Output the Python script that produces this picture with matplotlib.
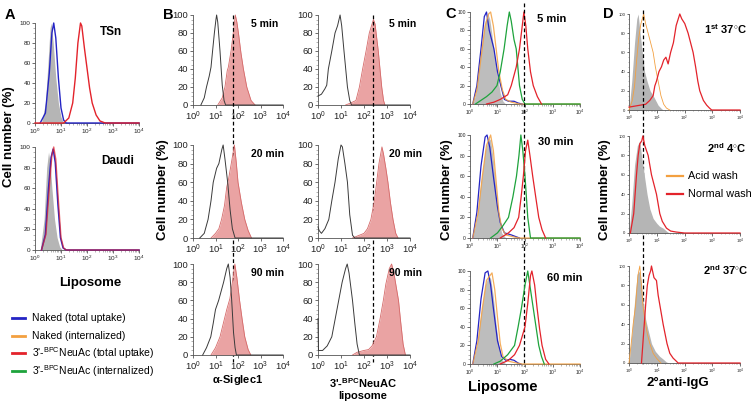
import matplotlib
matplotlib.use('Agg')
import matplotlib.pyplot as plt
from matplotlib.ticker import FixedLocator, LogLocator, MultipleLocator, NullFormatter
import matplotlib.transforms as mtransforms
import numpy as np

plt.rcParams['font.family'] = ['Liberation Sans', 'DejaVu Sans']
plt.rcParams['mathtext.fontset'] = 'custom'
plt.rcParams['mathtext.rm'] = 'Liberation Sans'
plt.rcParams['mathtext.it'] = 'Liberation Sans:italic'
plt.rcParams['mathtext.bf'] = 'Liberation Sans:bold'

# ---------------- data (x = log10 fluorescence, y = cell number %) ----------------
log_ticks = [0, 1, 2, 3, 4]
log_tick_labels = [r'$10^{0}$', r'$10^{1}$', r'$10^{2}$', r'$10^{3}$', r'$10^{4}$']
pct_ticks = [0, 20, 40, 60, 80, 100]

# Panel A
a_tsn_gray = [(0.25,0),(0.4,20),(0.5,60),(0.58,95),(0.62,100),(0.7,80),(0.8,45),(0.9,20),(1.0,6),(1.1,0)]
a_tsn_blue = [(0.2,0),(0.4,10),(0.55,50),(0.65,90),(0.72,100),(0.8,85),(0.9,45),(1.0,15),(1.1,3),(1.2,0),(4,0)]
a_tsn_red = [(0,0),(1.1,0),(1.3,5),(1.45,20),(1.55,45),(1.65,80),(1.75,100),(1.8,97),(1.9,75),(2.0,55),
             (2.1,35),(2.2,20),(2.35,8),(2.5,2),(2.7,0),(4,0)]
a_daudi_gray = [(0.2,0),(0.35,30),(0.45,80),(0.52,95),(0.58,85),(0.65,60),(0.75,30),(0.85,12),(0.95,3),(1.05,0)]
a_daudi_blue = [(0.25,0),(0.4,15),(0.52,60),(0.62,90),(0.7,98),(0.78,85),(0.88,45),(0.98,12),(1.08,2),(1.2,0),(4,0)]
a_daudi_red = [(0.25,0),(0.42,15),(0.55,60),(0.65,92),(0.72,100),(0.8,88),(0.9,48),(1.0,12),(1.1,2),(1.2,0),(4,0)]

# Panel B (black = control line, red = filled)
b_siglec_5_black = [(0.35,0),(0.5,8),(0.6,20),(0.72,32),(0.8,42),(0.87,60),(0.95,80),(1.02,95),(1.05,100),
                    (1.1,92),(1.2,60),(1.3,22),(1.38,5),(1.45,0),(4,0)]
b_siglec_5_red = [(1.1,0),(1.3,8),(1.42,20),(1.52,38),(1.57,42),(1.69,60),(1.79,80),(1.88,100),(1.95,92),
                  (2.03,78),(2.13,58),(2.24,40),(2.39,20),(2.58,5),(2.76,0)]
b_lipo_5_black = [(0,10),(0.15,12),(0.3,18),(0.38,22),(0.45,40),(0.6,60),(0.74,80),(0.85,88),(0.96,100),
                  (1.03,88),(1.13,60),(1.28,20),(1.38,5),(1.46,0),(4,0)]
b_lipo_5_red = [(1.2,0),(1.4,2),(1.65,5),(1.8,20),(1.94,40),(2.09,60),(2.23,80),(2.35,90),(2.41,95),
                (2.48,90),(2.55,75),(2.62,60),(2.77,20),(2.85,5),(2.91,0)]
b_siglec_20_black = [(0.3,0),(0.5,5),(0.67,20),(0.8,40),(0.9,60),(1.05,75),(1.15,80),(1.28,95),(1.34,100),
                     (1.42,85),(1.54,60),(1.65,30),(1.75,10),(1.87,0),(4,0)]
b_siglec_20_red = [(0.8,0),(1.0,5),(1.15,10),(1.27,20),(1.4,35),(1.5,55),(1.57,62),(1.7,80),(1.84,100),
                   (1.92,82),(2.0,60),(2.15,38),(2.3,20),(2.45,8),(2.6,0)]
b_lipo_20_black = [(0,12),(0.05,8),(0.15,5),(0.3,10),(0.47,20),(0.6,40),(0.74,60),(0.88,85),(1.0,100),
                   (1.06,98),(1.17,80),(1.28,60),(1.38,25),(1.5,3),(1.6,0),(4,0)]
b_lipo_20_red = [(1.5,0),(1.7,2),(2.0,5),(2.15,10),(2.3,20),(2.45,40),(2.55,60),(2.65,80),(2.78,98),
                 (2.85,90),(2.95,75),(3.04,60),(3.15,38),(3.26,20),(3.38,5),(3.48,0)]
b_siglec_90_black = [(0.43,0),(0.6,8),(0.79,20),(0.9,35),(1.0,50),(1.14,60),(1.25,70),(1.36,80),(1.5,95),
                     (1.57,100),(1.65,85),(1.72,60),(1.8,25),(1.87,8),(1.93,0),(4,0)]
b_siglec_90_red = [(0.8,0),(1.0,8),(1.2,20),(1.35,35),(1.5,50),(1.64,62),(1.75,80),(1.86,100),(1.95,85),
                   (2.07,60),(2.18,40),(2.3,20),(2.45,6),(2.57,0)]
b_lipo_90_black = [(0,40),(0.02,5),(0.2,5),(0.4,10),(0.6,20),(0.75,40),(0.9,60),(1.05,80),(1.2,95),
                   (1.27,100),(1.35,90),(1.5,60),(1.6,35),(1.7,12),(1.8,0),(4,0)]
b_lipo_90_red = [(1.5,0),(1.7,3),(2.0,5),(2.2,6),(2.35,10),(2.54,20),(2.7,40),(2.84,60),(2.95,78),(3.1,95),
                 (3.2,100),(3.3,90),(3.4,75),(3.5,60),(3.6,35),(3.7,12),(3.8,0)]
b_siglec_cutoff = 1.78
b_lipo_cutoff = 2.39

# Panel C
c5_gray = [(0.1,0),(0.2,10),(0.35,45),(0.45,70),(0.55,90),(0.65,98),(0.72,92),(0.8,75),(0.9,50),(1.0,30),
           (1.1,12),(1.2,3),(1.3,0)]
c5_blue = [(0.1,0),(0.25,20),(0.4,60),(0.52,95),(0.6,100),(0.7,80),(0.87,60),(1.0,35),(1.12,20),(1.25,5),
           (1.4,3),(1.6,3),(1.75,1),(1.9,0)]
c5_orange = [(0.1,0),(0.25,15),(0.4,50),(0.55,85),(0.68,98),(0.75,100),(0.85,85),(0.95,60),(1.05,35),
             (1.18,15),(1.3,5),(1.5,2),(1.8,0),(4,0)]
c5_green = [(0.2,0),(0.35,3),(0.6,8),(0.8,13),(0.98,20),(1.1,35),(1.24,60),(1.35,85),(1.43,100),(1.5,90),
            (1.6,70),(1.68,60),(1.8,20),(1.9,5),(2.0,0),(4,0)]
c5_red = [(0.6,0),(0.87,2),(1.1,5),(1.37,10),(1.5,20),(1.68,40),(1.8,60),(1.9,85),(1.96,100),(2.03,85),
          (2.1,60),(2.2,35),(2.3,20),(2.45,8),(2.6,0)]
c30_gray = [(0.1,0),(0.25,20),(0.4,55),(0.55,85),(0.68,97),(0.75,95),(0.85,75),(0.95,45),(1.05,20),(1.15,5),(1.3,0)]
c30_blue = [(0.1,0),(0.25,25),(0.4,70),(0.55,98),(0.62,100),(0.72,88),(0.85,60),(1.0,30),(1.1,15),(1.25,5),
            (1.5,3),(1.7,1),(1.8,0)]
c30_orange = [(0.1,0),(0.3,25),(0.45,60),(0.6,90),(0.75,100),(0.85,85),(0.95,55),(1.05,25),(1.15,10),(1.3,3),
              (1.6,1),(1.8,0),(4,0)]
c30_green = [(0.75,0),(1.0,5),(1.2,12),(1.4,20),(1.56,40),(1.69,60),(1.78,80),(1.85,100),(1.92,85),(2.0,60),
             (2.1,20),(2.2,0),(4,0)]
c30_red = [(1.1,0),(1.4,5),(1.6,10),(1.77,20),(1.86,40),(1.94,60),(2.02,85),(2.1,95),(2.18,80),(2.28,60),
           (2.4,38),(2.5,20),(2.62,8),(2.75,0)]
c60_gray = [(0.1,0),(0.25,20),(0.4,55),(0.55,85),(0.68,95),(0.75,92),(0.85,72),(0.95,42),(1.05,18),(1.15,5),(1.3,0)]
c60_blue = [(0.1,0),(0.25,25),(0.4,70),(0.55,98),(0.65,100),(0.75,85),(0.85,60),(1.0,25),(1.15,8),(1.3,4),
            (1.45,5),(1.6,4),(1.75,1),(1.85,0)]
c60_orange = [(0.1,0),(0.3,25),(0.45,60),(0.6,90),(0.8,98),(0.9,80),(1.0,50),(1.1,22),(1.2,8),(1.4,3),
              (1.7,1),(1.9,0),(4,0)]
c60_green = [(0.87,0),(1.1,3),(1.37,10),(1.62,20),(1.75,40),(1.87,60),(2.0,85),(2.1,100),(2.2,80),(2.3,60),
             (2.4,40),(2.5,20),(2.6,8),(2.7,0)]
c60_red = [(1.1,0),(1.4,4),(1.62,10),(1.8,20),(1.9,30),(2.0,40),(2.1,65),(2.2,95),(2.25,100),(2.35,85),
           (2.44,60),(2.53,38),(2.62,20),(2.75,5),(2.87,0)]
c_cutoff = 1.97

# Panel D
d1_gray = [(0,0),(0.1,30),(0.2,70),(0.28,95),(0.33,100),(0.4,80),(0.48,60),(0.56,40),(0.65,30),(0.76,20),
           (0.87,15),(0.96,10),(1.05,5),(1.15,2),(1.23,0)]
d1_orange = [(0,0),(0.12,10),(0.2,25),(0.27,50),(0.35,75),(0.43,90),(0.53,100),(0.6,90),(0.69,80),(0.78,70),
             (0.87,60),(0.95,45),(1.05,30),(1.15,15),(1.25,6),(1.35,2),(1.47,0)]
d1_red = [(0,3),(0.2,4),(0.4,5),(0.6,6),(0.75,10),(0.87,15),(0.93,25),(0.99,30),(1.08,40),(1.17,45),(1.25,52),
          (1.33,55),(1.41,48),(1.5,60),(1.6,70),(1.7,88),(1.83,100),(1.9,95),(2.01,90),(2.13,80),(2.22,70),
          (2.31,60),(2.4,45),(2.48,30),(2.55,20),(2.68,10),(2.8,5),(2.9,2),(2.98,0),(4,0)]
d2_gray = [(0,0),(0.1,30),(0.2,70),(0.3,90),(0.39,95),(0.45,80),(0.55,60),(0.65,40),(0.75,25),(0.87,15),
           (1.0,10),(1.1,7),(1.23,5),(1.35,2),(1.45,0)]
d2_red = [(0.05,0),(0.17,20),(0.27,60),(0.33,80),(0.39,92),(0.46,95),(0.5,100),(0.57,90),(0.63,85),(0.69,80),
          (0.75,70),(0.81,60),(0.9,50),(0.99,40),(1.05,30),(1.11,20),(1.2,12),(1.35,5),(1.5,2),(1.7,1),(2.0,0),(4,0)]
d3_gray = [(0,0),(0.1,30),(0.22,70),(0.3,92),(0.39,95),(0.45,80),(0.52,60),(0.6,45),(0.68,35),(0.81,20),
           (0.95,12),(1.1,7),(1.23,4),(1.35,1),(1.45,0)]
d3_orange = [(0,0),(0.08,20),(0.15,40),(0.24,60),(0.32,90),(0.39,100),(0.45,80),(0.5,60),(0.57,45),(0.66,30),
             (0.75,20),(0.87,10),(0.99,5),(1.15,0)]
d3_red = [(0.45,0),(0.5,20),(0.55,40),(0.6,60),(0.66,80),(0.72,90),(0.78,95),(0.81,100),(0.9,88),(0.99,85),
          (1.05,70),(1.11,60),(1.17,50),(1.23,40),(1.3,30),(1.37,20),(1.47,10),(1.59,5),(1.7,2),(1.77,0),(4,0)]
d_cutoff = 0.5

legend_a_labels = ['Naked (total uptake)', 'Naked (internalized)',
                   r"3'-$^{\mathrm{BPC}}$NeuAc (total uptake)", r"3'-$^{\mathrm{BPC}}$NeuAc (internalized)"]
legend_d_labels = ['Acid wash', 'Normal wash']

# ---------------- styling ----------------
BLUE = '#2424c4'
ORANGE = '#f3a040'
RED = '#e3232b'
GREEN = '#1ea33c'
GRAY = '#b5b5b5'
BFILL = '#eaa3a3'
BEDGE = '#d56a6a'

W, H = 755, 404
fig = plt.figure(figsize=(W / 100, H / 100), dpi=100)


def rect(x0, y0, x1, y1):
    return [x0 / W, 1 - y1 / H, (x1 - x0) / W, (y1 - y0) / H]


def fx(x):
    return x / W


def fy(y):
    return 1 - y / H


def make_ax(r, tick_fs, ticklen):
    ax = fig.add_axes(rect(*r))
    ax.set_xscale('log')
    ax.set_xlim(10 ** log_ticks[0], 10 ** log_ticks[-1])
    ax.set_ylim(0, 100)
    ax.patch.set_alpha(0)
    for s in ['top', 'right']:
        ax.spines[s].set_visible(False)
    for s in ['left', 'bottom']:
        ax.spines[s].set_linewidth(0.6)
        ax.spines[s].set_color('#555555')
    ax.xaxis.set_major_locator(FixedLocator([10 ** t for t in log_ticks]))
    ax.set_xticklabels(log_tick_labels)
    ax.xaxis.set_minor_locator(LogLocator(base=10, subs=np.arange(2, 10)))
    ax.xaxis.set_minor_formatter(NullFormatter())
    ax.yaxis.set_major_locator(FixedLocator(pct_ticks))
    ax.set_yticklabels([str(p) for p in pct_ticks])
    ax.yaxis.set_minor_locator(MultipleLocator(5))
    ax.tick_params(which='major', length=ticklen, width=0.6, labelsize=tick_fs, pad=1,
                   color='#555555', labelcolor='#222222')
    ax.tick_params(which='minor', length=ticklen * 0.55, width=0.4, color='#777777')
    return ax


def line(ax, curve, color, lw=1.0, alpha=1.0, z=3):
    lx, y = zip(*curve)
    ax.plot(10 ** np.array(lx), y, color=color, lw=lw, alpha=alpha, clip_on=False, zorder=z,
            solid_joinstyle='round')


def fill(ax, curve, color, edge=None, lw=0.0, z=2):
    lx, y = zip(*curve)
    xs = 10 ** np.array(lx)
    ax.fill_between(xs, y, 0, color=color, lw=0, zorder=z, clip_on=False)
    if edge:
        ax.plot(xs, y, color=edge, lw=lw, zorder=z + 0.1, clip_on=False)


def cutoff_line(ax_top, v, top_px, bottom_px):
    tr = mtransforms.blended_transform_factory(ax_top.transData, fig.transFigure)
    ax_top.plot([10 ** v, 10 ** v], [fy(top_px), fy(bottom_px)], transform=tr, color='black',
                lw=0.9, ls=(0, (3, 2)), clip_on=False, zorder=6)


def title(x, y, s, fs=8):
    fig.text(fx(x), fy(y), s, fontsize=fs, fontweight='bold', ha='left', va='center')


def ylab(x, y, fs=9.5):
    fig.text(fx(x), fy(y), 'Cell number (%)', fontsize=fs, fontweight='bold', rotation=90,
             ha='center', va='center')


# ---------------- Panel A ----------------
A_fs, A_tl = 4.6, 2.0
axA1 = make_ax((35, 23, 139, 123), A_fs, A_tl)
fill(axA1, a_tsn_gray, GRAY)
line(axA1, a_tsn_blue, BLUE, 1.0)
line(axA1, a_tsn_red, RED, 1.0)
axA2 = make_ax((35, 147, 139, 250), A_fs, A_tl)
fill(axA2, a_daudi_gray, GRAY)
line(axA2, a_daudi_blue, BLUE, 1.1)
line(axA2, a_daudi_red, RED, 1.0, alpha=0.7)
title(100, 32, 'TSn', 8.5)
title(101, 161, 'Daudi', 8.5)
fig.text(fx(5), fy(15), 'A', fontsize=10.5, fontweight='bold', ha='left', va='center')
ylab(9, 137)
fig.text(fx(90), fy(283), 'Liposome', fontsize=9.5, fontweight='bold', ha='center', va='center')
for lab, col, yy in zip(legend_a_labels, [BLUE, ORANGE, RED, GREEN], [318, 336, 353, 371]):
    fig.add_artist(plt.Line2D([fx(12), fx(25)], [fy(yy), fy(yy)], color=col, lw=2.0))
    fig.text(fx(32), fy(yy), lab, fontsize=7.5, ha='left', va='center')

# ---------------- Panel B ----------------
B_fs, B_tl = 6.8, 2.5
B_rows = [(15, 105), (145, 238), (264, 355)]
B_left_x = (193, 283)
B_right_x = (318, 410)
b_left_data = [(b_siglec_5_black, b_siglec_5_red), (b_siglec_20_black, b_siglec_20_red),
               (b_siglec_90_black, b_siglec_90_red)]
b_right_data = [(b_lipo_5_black, b_lipo_5_red), (b_lipo_20_black, b_lipo_20_red),
                (b_lipo_90_black, b_lipo_90_red)]
b_titles = ['5 min', '20 min', '90 min']
axBL, axBR = [], []
for (yt, yb), (blk, red) in zip(B_rows, b_left_data):
    ax = make_ax((B_left_x[0], yt, B_left_x[1], yb), B_fs, B_tl)
    fill(ax, red, BFILL, BEDGE, 0.6)
    line(ax, blk, '#3a3a3a', 0.7)
    axBL.append(ax)
for (yt, yb), (blk, red) in zip(B_rows, b_right_data):
    ax = make_ax((B_right_x[0], yt, B_right_x[1], yb), B_fs, B_tl)
    fill(ax, red, BFILL, BEDGE, 0.6)
    line(ax, blk, '#3a3a3a', 0.7)
    axBR.append(ax)
cutoff_line(axBL[0], b_siglec_cutoff, 15, 362)
cutoff_line(axBR[0], b_lipo_cutoff, 15, 362)
for (yt, yb), ttl in zip(B_rows, b_titles):
    title(251, yt + 9, ttl, 7.5)
    title(389, yt + 9, ttl, 7.5)
fig.text(fx(163), fy(15), 'B', fontsize=10.5, fontweight='bold', ha='left', va='center')
ylab(163, 190)
fig.text(fx(238), fy(380), r'$\mathbf{\alpha}$-Siglec1', fontsize=8, fontweight='bold', ha='center', va='center')
fig.text(fx(363), fy(383), r"3'-$^{\mathbf{BPC}}$NeuAC", fontsize=8, fontweight='bold', ha='center', va='center')
fig.text(fx(363), fy(396), 'liposome', fontsize=8, fontweight='bold', ha='center', va='center')

# ---------------- Panel C ----------------
C_fs, C_tl = 3.6, 2.0
C_rows = [(12, 104), (135, 238), (271, 364)]
C_x = (470, 580)
c_data = [(c5_gray, c5_blue, c5_orange, c5_green, c5_red),
          (c30_gray, c30_blue, c30_orange, c30_green, c30_red),
          (c60_gray, c60_blue, c60_orange, c60_green, c60_red)]
c_titles = ['5 min', '30 min', '60 min']
axC = []
for (yt, yb), (g, b, o, gr, r) in zip(C_rows, c_data):
    ax = make_ax((C_x[0], yt, C_x[1], yb), C_fs, C_tl)
    fill(ax, g, '#bdbdbd')
    line(ax, b, BLUE, 0.9)
    line(ax, o, ORANGE, 0.9, alpha=0.85)
    line(ax, gr, GREEN, 0.9)
    line(ax, r, RED, 0.9)
    axC.append(ax)
cutoff_line(axC[0], c_cutoff, 3, 366)
for (yt, yb), ttl, xo in zip(C_rows, c_titles, [537, 538, 547]):
    title(xo, yt + 7, ttl, 8)
fig.text(fx(445), fy(14), 'C', fontsize=10.5, fontweight='bold', ha='left', va='center')
ylab(447, 190)
fig.text(fx(503), fy(387), 'Liposome', fontsize=10.5, fontweight='bold', ha='center', va='center')

# ---------------- Panel D ----------------
D_fs, D_tl = 3.1, 1.8
D_x = (629, 740)
axD = []
ax = make_ax((D_x[0], 14, D_x[1], 110), D_fs, D_tl)
fill(ax, d1_gray, GRAY)
line(ax, d1_orange, ORANGE, 0.6)
line(ax, d1_red, RED, 0.9)
axD.append(ax)
ax = make_ax((D_x[0], 136, D_x[1], 233), D_fs, D_tl)
fill(ax, d2_gray, GRAY)
line(ax, d2_red, RED, 0.9)
axD.append(ax)
ax = make_ax((D_x[0], 266, D_x[1], 363), D_fs, D_tl)
fill(ax, d3_gray, GRAY)
line(ax, d3_orange, ORANGE, 0.6)
line(ax, d3_red, RED, 0.9)
axD.append(ax)
cutoff_line(axD[0], d_cutoff, 10, 366)
title(704, 29, r'1$^{\mathbf{st}}$ 37$^{\circ}$C', 8)
title(707, 148, r'2$^{\mathbf{nd}}$ 4$^{\circ}$C', 8)
title(703, 270, r'2$^{\mathbf{nd}}$ 37$^{\circ}$C', 8)
fig.text(fx(603), fy(14), 'D', fontsize=10.5, fontweight='bold', ha='left', va='center')
ylab(605, 190)
fig.text(fx(678), fy(383), '2°anti-IgG', fontsize=9.5, fontweight='bold', ha='center', va='center')
for lab, col, yy in zip(legend_d_labels, [ORANGE, RED], [176, 194]):
    fig.add_artist(plt.Line2D([fx(667), fx(683)], [fy(yy), fy(yy)], color=col, lw=1.6))
    fig.text(fx(688), fy(yy), lab, fontsize=7.8, ha='left', va='center')

fig.savefig('out.png', dpi=100)
